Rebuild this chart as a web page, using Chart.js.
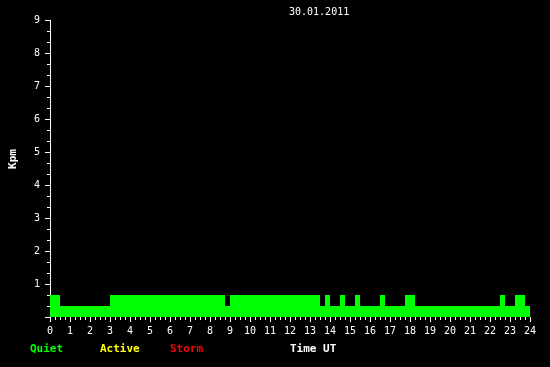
<!DOCTYPE html>
<html>
<head>
<meta charset="utf-8">
<script src="https://cdn.jsdelivr.net/npm/chart.js@4"></script>
<style>
  html, body { margin: 0; padding: 0; background: #000; }
  #wrap { width: 550px; height: 367px; }
</style>
</head>
<body>
<div id="wrap"><canvas id="kpm" width="550" height="367"></canvas></div>
<script>
// ── Dados (30.01.2011) ──
// início de cada trecho (hora UT) e o Kpm do trecho; o último ponto fecha em 24h
const segStart = [0, 0.5, 3, 8.75, 9, 13.5, 13.75, 14, 14.5, 14.75, 15.25, 15.5, 16.5, 16.75, 17.75, 18.25, 22.5, 22.75, 23.25, 23.75, 24];
const segKpm   = [0.667, 0.333, 0.667, 0.333, 0.667, 0.333, 0.667, 0.333, 0.667, 0.333, 0.667, 0.333, 0.667, 0.333, 0.667, 0.333, 0.667, 0.333, 0.667, 0.333, 0.333];

const titulo  = '30.01.2011';
const yTitulo = 'Kpm';
const xTitulo = 'Time UT';
const legenda = [['Quiet', '#00ff00', 30], ['Active', '#ffff00', 100], ['Storm', '#ff0000', 170]];

const MONO = "'DejaVu Sans Mono', 'Liberation Mono', monospace";

// ── Ticks menores (15 min no eixo x, 1/3 no eixo y) ──
const minorTicks = {
  id: 'minorTicks',
  afterDraw(chart) {
    const { ctx, scales: { x, y }, chartArea: a } = chart;
    ctx.save();
    ctx.fillStyle = '#fff';
    for (let q = 0; q <= 96; q++) {
      if (q % 4 === 0) continue;
      const px = Math.round(x.getPixelForValue(q / 4));
      ctx.fillRect(px, a.bottom, 1, 3);
    }
    for (let t = 0; t <= 27; t++) {
      if (t % 3 === 0) continue;
      const py = Math.round(y.getPixelForValue(t / 3));
      ctx.fillRect(a.left - 3, py, 3, 1);
    }
    ctx.restore();
  }
};

// ── Textos: data, Kpm, legenda, Time UT ──
const textos = {
  id: 'textos',
  afterDraw(chart) {
    const ctx = chart.ctx;
    ctx.save();
    ctx.textBaseline = 'middle';
    ctx.fillStyle = '#fff';
    ctx.font = '10px ' + MONO;
    ctx.textAlign = 'left';
    ctx.fillText(titulo, 289, 12);

    ctx.font = 'bold 11px ' + MONO;
    legenda.forEach(l => { ctx.fillStyle = l[1]; ctx.fillText(l[0], l[2], 349); });
    ctx.fillStyle = '#fff';
    ctx.fillText(xTitulo, 290, 349);

    ctx.translate(13, 159);
    ctx.rotate(-Math.PI / 2);
    ctx.textAlign = 'center';
    ctx.fillText(yTitulo, 0, 0);
    ctx.restore();
  }
};

new Chart(document.getElementById('kpm').getContext('2d'), {
  type: 'line',
  data: {
    datasets: [{
      data: segStart.map((h, i) => ({ x: h, y: segKpm[i] })),
      stepped: 'before',
      fill: 'origin',
      backgroundColor: '#00ff00',
      borderColor: 'rgba(0,0,0,0)',
      borderWidth: 0,
      pointRadius: 0,
      tension: 0
    }]
  },
  plugins: [minorTicks, textos],
  options: {
    responsive: false, animation: false, devicePixelRatio: 1,
    layout: { padding: { top: 20, right: 20, left: 0, bottom: 0 } },
    plugins: { legend: { display: false }, tooltip: { enabled: false }, title: { display: false } },
    scales: {
      x: {
        type: 'linear', min: 0, max: 24,
        afterFit: s => { s.height = 50; },
        border: { display: false },
        grid: { drawOnChartArea: false, color: '#fff', tickLength: 5, tickWidth: 1 },
        ticks: { stepSize: 1, color: '#fff', font: { family: MONO, size: 10 }, padding: 3, maxRotation: 0, autoSkip: false }
      },
      y: {
        min: 0, max: 9,
        afterFit: s => { s.width = 50; },
        border: { display: true, color: '#fff', width: 1 },
        grid: { drawOnChartArea: false, color: '#fff', tickLength: 5, tickWidth: 1 },
        ticks: { stepSize: 1, color: '#fff', font: { family: MONO, size: 10 }, padding: 5,
                 callback: v => (v === 0 ? '' : v) }
      }
    }
  }
});
</script>
</body>
</html>
